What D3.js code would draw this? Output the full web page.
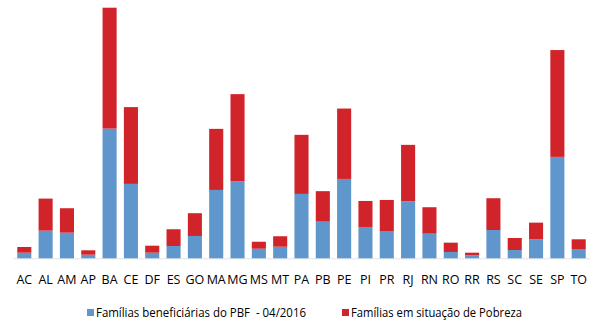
<!DOCTYPE html>
<html>
<head>
<meta charset="utf-8">
<script src="https://cdn.jsdelivr.net/npm/d3@7"></script>
<style>
  body { margin: 0; background: #fff; }
  text { font-family: "Open Sans", "Noto Sans", sans-serif; fill: #000; }
</style>
</head>
<body>
<svg width="600" height="330"></svg>
<script>
// states (UF)
const states = ["AC","AL","AM","AP","BA","CE","DF","ES","GO","MA","MG","MS","MT","PA",
  "PB","PE","PI","PR","RJ","RN","RO","RR","RS","SC","SE","SP","TO"];
// thousands of families
const pbf = [78,384,356,50,1801,1033,78,171,310,949,1070,133,161,894,
  509,1102,435,379,792,342,88,42,393,115,264,1408,129];
const pobreza = [79,445,339,61,1678,1066,97,232,316,848,1209,97,145,820,
  423,977,361,431,783,367,129,36,441,167,231,1483,135];
const seriesNames = ["Famílias beneficiárias do PBF  - 04/2016", "Famílias em situação de Pobreza"];
const colors = ["#5f97cc", "#d0232a"];

const svg = d3.select("svg");
const left = 13, right = 590, baseY = 258.3;

const table = states.map((s, i) => ({ uf: s, pbf: pbf[i], pobreza: pobreza[i] }));
const stack = d3.stack().keys(["pbf", "pobreza"])(table);

const x = d3.scaleBand().domain(states).range([left, right]).paddingInner(0.34).paddingOuter(0.2);
const y = d3.scaleLinear().domain([0, 3500]).range([baseY, 6.2]);

svg.append("line")
  .attr("x1", left).attr("x2", right)
  .attr("y1", baseY + 0.5).attr("y2", baseY + 0.5)
  .attr("stroke", "#e3e3e3");

svg.selectAll("g.serie")
  .data(stack)
  .enter()
  .append("g")
  .attr("class", "serie")
  .attr("fill", (d, i) => colors[i])
  .selectAll("rect")
  .data(d => d)
  .enter()
  .append("rect")
  .attr("x", d => x(d.data.uf))
  .attr("width", x.bandwidth())
  .attr("y", d => y(d[1]))
  .attr("height", d => y(d[0]) - y(d[1]));

const xAxis = d3.axisBottom(x).tickSize(0).tickPadding(0);
const gx = svg.append("g")
  .attr("transform", `translate(0,${baseY})`)
  .call(xAxis);
gx.select(".domain").remove();
gx.selectAll("text")
  .attr("dy", null)
  .attr("y", 26)
  .style("font-size", "12.5px")
  .style("font-family", "'Open Sans', sans-serif");

// legend
const legendX = [87, 342];
const legendW = [210, 171];
const leg = svg.selectAll("g.leg")
  .data(seriesNames)
  .enter()
  .append("g")
  .attr("class", "leg")
  .attr("transform", (d, i) => `translate(${legendX[i]},309)`);
leg.append("rect")
  .attr("width", 7).attr("height", 7)
  .attr("fill", (d, i) => colors[i]);
leg.append("text")
  .attr("x", 9)
  .attr("y", 8)
  .style("font-size", "12.5px")
  .attr("xml:space", "preserve")
  .attr("textLength", (d, i) => legendW[i])
  .attr("lengthAdjust", "spacingAndGlyphs")
  .text(d => d);
</script>
</body>
</html>
